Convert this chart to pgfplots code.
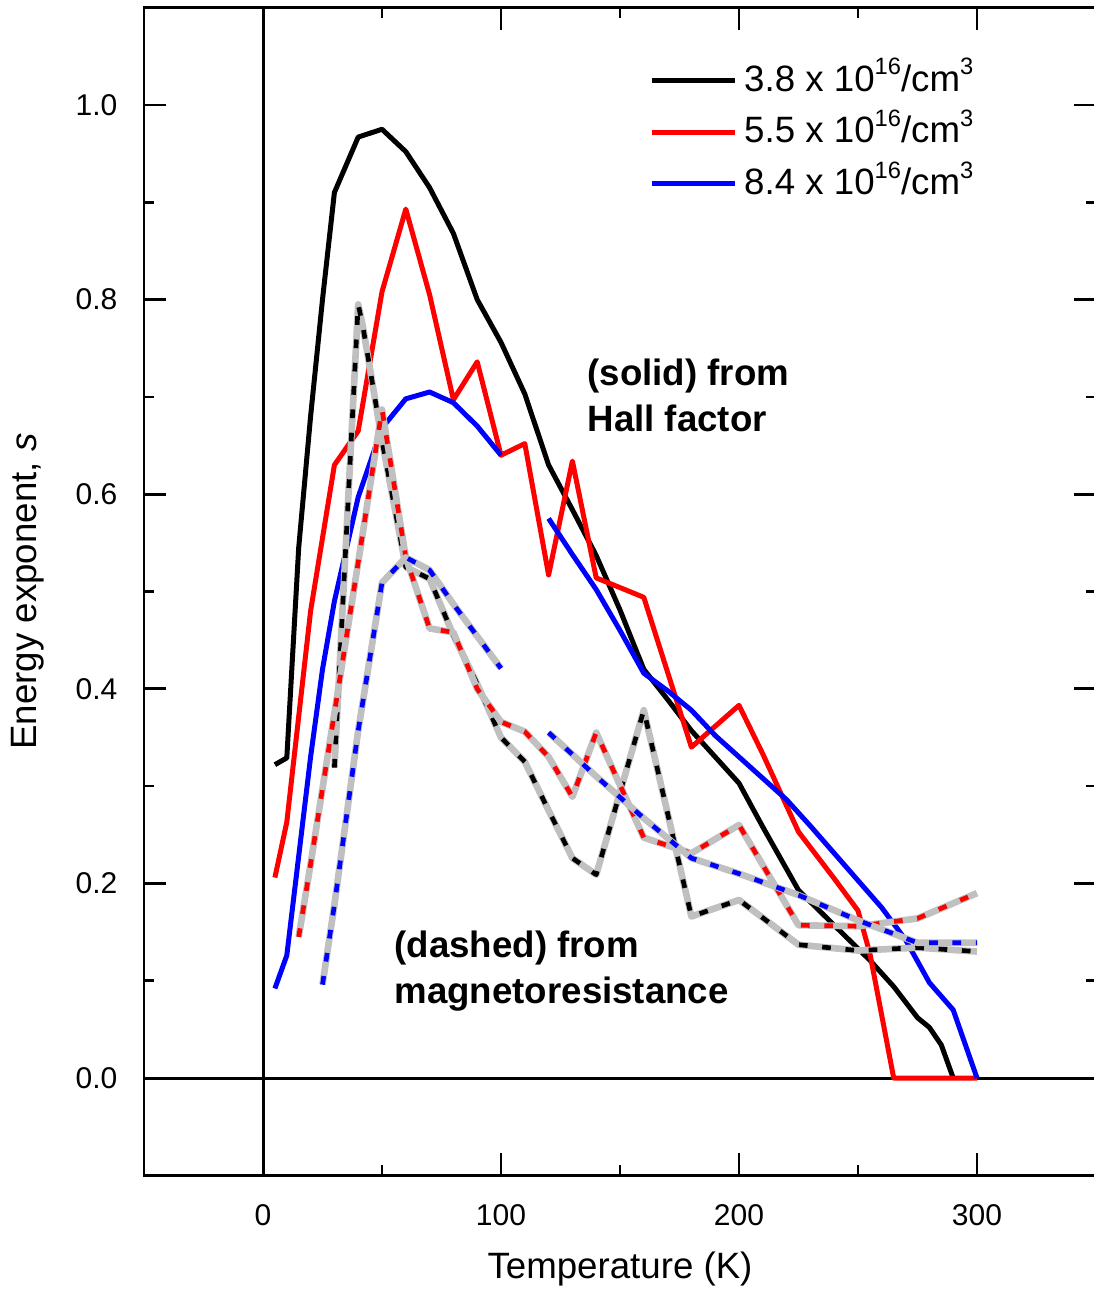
\documentclass[border=0pt]{standalone}
\usepackage{fontspec}
\setmainfont{Liberation Sans}
\usepackage{pgfplots}
\usepackage{pgfplotstable}
\pgfplotsset{compat=1.18}
\definecolor{mgray}{RGB}{192,192,192}
\definecolor{pred}{RGB}{255,0,0}
\definecolor{pblue}{RGB}{0,0,255}
\newcommand{\sups}[1]{\smash{\raisebox{4.9pt}{\fontsize{7.1}{8}\selectfont #1}}}

% Hall factor (solid)
\pgfplotstableread{
T s
5 0.322
10 0.329
15 0.545
20 0.68
25 0.80
30 0.91
40 0.967
50 0.975
60 0.952
70 0.915
80 0.868
90 0.80
100 0.756
110 0.703
120 0.630
130 0.584
140 0.537
150 0.481
160 0.42
170 0.389
180 0.357
190 0.33
200 0.303
210 0.258
225 0.193
240 0.157
255 0.121
265 0.094
275 0.062
280 0.052
285 0.034
290 0.0
}\hblack
\pgfplotstableread{
T s
5 0.206
10 0.263
20 0.48
30 0.630
40 0.665
50 0.808
60 0.893
70 0.805
80 0.697
90 0.736
100 0.640
110 0.652
120 0.517
130 0.634
140 0.514
160 0.494
180 0.340
200 0.383
210 0.333
225 0.253
240 0.205
250 0.172
255 0.128
265 0.0
300 0.0
}\hred
\pgfplotstableread{
T s
5 0.092
10 0.126
20 0.33
25 0.42
30 0.49
40 0.597
50 0.668
60 0.698
70 0.705
80 0.694
90 0.670
100 0.640
}\hblueA
\pgfplotstableread{
T s
120 0.575
130 0.538
140 0.502
150 0.46
160 0.416
170 0.398
180 0.378
190 0.352
200 0.33
210 0.308
220 0.286
230 0.259
240 0.231
250 0.203
260 0.175
270 0.142
280 0.098
290 0.07
300 0.0
}\hblueB
% magnetoresistance (dashed)
\pgfplotstableread{
T s
30 0.319
40 0.795
42 0.772
50 0.655
60 0.525
70 0.513
80 0.455
90 0.405
100 0.35
110 0.325
120 0.275
130 0.226
140 0.209
160 0.378
180 0.166
200 0.183
225 0.137
250 0.131
275 0.134
300 0.130
}\mblack
\pgfplotstableread{
T s
15 0.145
20 0.22
30 0.375
40 0.53
50 0.687
60 0.535
70 0.462
80 0.458
90 0.40
100 0.366
110 0.356
120 0.33
130 0.289
140 0.355
160 0.247
180 0.231
200 0.26
225 0.157
250 0.156
275 0.164
300 0.19
}\mred
\pgfplotstableread{
T s
25 0.096
30 0.178
40 0.357
50 0.509
60 0.535
70 0.522
80 0.487
90 0.454
100 0.421
}\mblueA
\pgfplotstableread{
T s
120 0.355
140 0.31
160 0.267
180 0.226
200 0.21
225 0.188
250 0.162
275 0.139
300 0.139
}\mblueB

\tikzset{
  hall/.style={line width=1.5pt, line join=round},
  mr/.style={line width=1.4pt, line join=round, dash pattern=on 2.6pt off 4.4pt,
     preaction={draw=mgray, line width=2.0pt, solid}},
}

\begin{document}
\begin{tikzpicture}
\useasboundingbox (-43.2pt,-34.4pt) rectangle (285pt,352.6pt);
\begin{axis}[
  at={(0,0)}, anchor=south west,
  scale only axis, width=285.6pt, height=350.3pt,
  xmin=-50, xmax=350, ymin=-0.1, ymax=1.1,
  xtick={0,100,200,300}, ytick={0,0.2,0.4,0.6,0.8,1.0},
  minor x tick num=1, minor y tick num=1,
  tick align=inside,
  major tick length=6.6pt, minor tick length=3pt,
  axis line style={line width=0.8pt},
  every tick/.style={black, line width=0.8pt},
  tick label style={font=\fontsize{9}{11}\selectfont},
  /pgf/number format/assume math mode=true,
  yticklabel style={/pgf/number format/.cd, fixed, fixed zerofill, precision=1, /tikz/.cd, anchor=east, inner sep=0pt, xshift=-7.8pt},
  xticklabel style={anchor=base, inner sep=0pt, yshift=-15pt},
  xlabel={Temperature (K)},
  ylabel={Energy exponent, \textit{s}},
  label style={font=\fontsize{11}{13}\selectfont},
  xlabel style={at={(axis description cs:0.5,-0.0805)}, anchor=center},
  ylabel style={at={(axis description cs:-0.1218,0.5)}, anchor=center},
  legend style={draw=none, fill=none, at={(0.5300,0.9517)}, anchor=north west,
    inner sep=0pt, row sep=6.0pt, column sep=2pt, cells={anchor=west},
    nodes={inner sep=0pt}, font=\fontsize{11}{13}\selectfont},
  legend image code/.code={\draw[#1] (0pt,0pt) -- (25pt,0pt);},
]
\addplot[black, line width=0.9pt, forget plot] coordinates {(0,-0.1) (0,1.1)};
\addplot[black, line width=0.9pt, forget plot] coordinates {(-50,0) (350,0)};

\addplot[hall, black] table[x=T, y=s] {\hblack};
\addlegendentry{3.8 x 10\sups{16}/cm\sups{3}}
\addplot[hall, pred] table[x=T, y=s] {\hred};
\addlegendentry{5.5 x 10\sups{16}/cm\sups{3}}
\addplot[hall, pblue] table[x=T, y=s] {\hblueA};
\addlegendentry{8.4 x 10\sups{16}/cm\sups{3}}
\addplot[hall, pblue, forget plot] table[x=T, y=s] {\hblueB};

\addplot[mr, black, forget plot] table[x=T, y=s] {\mblack};
\addplot[mr, pred, forget plot] table[x=T, y=s] {\mred};
\addplot[mr, pblue, forget plot] table[x=T, y=s] {\mblueA};
\addplot[mr, pblue, forget plot] table[x=T, y=s] {\mblueB};

\node[anchor=west, align=left, inner sep=0pt, font=\fontsize{11}{13.8}\selectfont\bfseries] at (axis cs:136.1,0.702) {(solid) from\\Hall factor};
\node[anchor=west, align=left, inner sep=0pt, font=\fontsize{11}{13.8}\selectfont\bfseries] at (axis cs:55.0,0.110) {(dashed) from\\magnetoresistance};
\end{axis}
\end{tikzpicture}
\end{document}
